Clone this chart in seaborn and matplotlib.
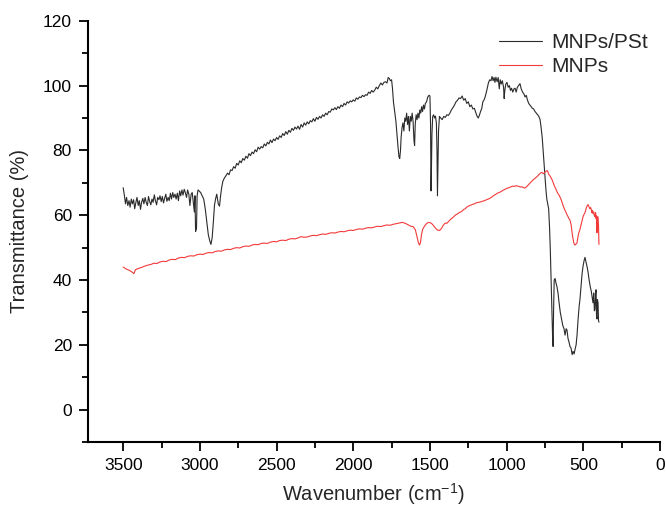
"""FTIR spectra of MNPs and MNPs/PSt, transmittance vs wavenumber."""

from matplotlib import pyplot as plt
from matplotlib.ticker import MultipleLocator
import seaborn as sns
import pandas as pd

# MNPs/PSt spectrum (black)
pst_wn = [
    3500, 3492, 3485, 3478, 3470, 3462, 3455, 3447, 3440, 3432, 3425, 3417, 3410, 3402, 3395,
    3387, 3380, 3372, 3365, 3357, 3350, 3342, 3335, 3327, 3320, 3312, 3305, 3297, 3290, 3282,
    3275, 3267, 3260, 3252, 3245, 3237, 3230, 3222, 3215, 3207, 3200, 3192, 3185, 3177, 3170,
    3162, 3155, 3147, 3140, 3132, 3125, 3117, 3110, 3102, 3095, 3087, 3080, 3072, 3065, 3057,
    3050, 3043, 3036, 3032, 3028, 3022, 3018, 3012, 3005, 2995, 2985, 2975, 2965, 2955, 2945,
    2935, 2928, 2920, 2912, 2905, 2898, 2890, 2880, 2872, 2865, 2858, 2850, 2840, 2830, 2820,
    2810, 2800, 2790, 2780, 2770, 2760, 2750, 2740, 2730, 2720, 2710, 2700, 2690, 2680, 2670,
    2660, 2650, 2640, 2630, 2620, 2610, 2600, 2590, 2580, 2570, 2560, 2550, 2540, 2530, 2520,
    2510, 2500, 2490, 2480, 2470, 2460, 2450, 2440, 2430, 2420, 2410, 2400, 2390, 2380, 2370,
    2360, 2350, 2340, 2330, 2320, 2310, 2300, 2290, 2280, 2270, 2260, 2250, 2240, 2230, 2220,
    2210, 2200, 2190, 2180, 2170, 2160, 2150, 2140, 2130, 2120, 2110, 2100, 2090, 2080, 2070,
    2060, 2050, 2040, 2030, 2020, 2010, 2000, 1990, 1980, 1970, 1960, 1950, 1940, 1930, 1920,
    1910, 1900, 1890, 1880, 1870, 1860, 1850, 1840, 1830, 1820, 1810, 1800, 1790, 1780, 1772,
    1765, 1758, 1750, 1744, 1738, 1730, 1722, 1715, 1708, 1702, 1697, 1692, 1688, 1682, 1676,
    1670, 1664, 1658, 1652, 1646, 1640, 1634, 1628, 1622, 1616, 1610, 1604, 1600, 1596, 1590,
    1584, 1578, 1572, 1566, 1560, 1554, 1548, 1542, 1536, 1530, 1522, 1514, 1506, 1500, 1496,
    1493, 1490, 1487, 1482, 1476, 1470, 1464, 1458, 1454, 1451, 1448, 1444, 1438, 1430, 1420,
    1410, 1400, 1390, 1380, 1370, 1360, 1350, 1340, 1330, 1320, 1310, 1300, 1290, 1280, 1270,
    1260, 1250, 1240, 1230, 1220, 1210, 1200, 1192, 1185, 1178, 1170, 1162, 1155, 1148, 1140,
    1132, 1125, 1118, 1110, 1102, 1095, 1088, 1082, 1076, 1070, 1062, 1055, 1048, 1042, 1035,
    1028, 1020, 1016, 1012, 1005, 998, 990, 982, 975, 968, 960, 952, 945, 938, 930,
    922, 913, 905, 896, 888, 880, 872, 864, 856, 848, 840, 832, 824, 815, 806,
    798, 790, 782, 775, 768, 762, 756, 750, 744, 738, 732, 726, 720, 715, 710,
    705, 700, 697, 694, 690, 684, 678, 672, 665, 658, 650, 642, 634, 626, 619,
    612, 606, 600, 594, 587, 580, 573, 567, 560, 554, 547, 541, 534, 527, 522,
    515, 508, 502, 495, 489, 482, 475, 469, 462, 455, 448, 443, 437, 432, 428,
    424, 420, 417, 414, 411, 408, 404, 401, 398,
]
pst_t = [
    68.5, 66.0, 63.5, 65.5, 63.0, 64.5, 62.5, 65.0, 63.5, 64.8, 62.0, 64.0, 65.5, 63.0, 64.5,
    61.8, 64.0, 65.2, 63.5, 65.5, 64.0, 63.0, 65.8, 64.2, 63.2, 65.0, 64.0, 66.3, 64.5, 63.2,
    65.5, 64.8, 66.0, 64.2, 65.8, 63.8, 65.2, 66.5, 64.3, 65.5, 64.5, 66.8, 65.0, 67.0, 65.5,
    66.5, 65.0, 66.8, 64.5, 67.5, 66.0, 67.8, 66.2, 68.0, 67.0, 65.5, 67.8, 66.5, 63.0, 66.5,
    67.0, 64.0, 61.0, 66.0, 55.0, 56.0, 66.0, 67.8, 67.5, 67.0, 66.0, 65.0, 62.0, 58.0, 54.0,
    52.0, 51.0, 53.0, 58.0, 63.0, 65.0, 66.5, 63.5, 62.8, 66.0, 68.5, 70.5, 71.5, 72.2, 73.0,
    72.5, 74.0, 73.8, 75.0, 74.5, 76.0, 75.5, 76.8, 76.2, 77.5, 77.0, 78.2, 77.6, 79.0, 78.4,
    79.5, 79.0, 80.2, 79.6, 81.0, 80.4, 81.2, 80.8, 82.0, 81.4, 82.5, 82.0, 83.2, 82.4, 83.5,
    83.0, 84.0, 83.4, 84.5, 84.0, 85.2, 84.6, 85.8, 85.0, 86.2, 85.6, 86.8, 86.2, 87.2, 86.6,
    87.5, 86.5, 88.0, 87.2, 88.5, 87.8, 88.8, 88.2, 89.2, 88.8, 89.8, 89.0, 90.2, 89.6, 90.5,
    90.0, 91.0, 90.5, 91.5, 91.0, 92.0, 91.8, 92.8, 92.5, 93.2, 92.6, 93.5, 93.0, 94.0, 93.5,
    94.5, 94.0, 95.0, 94.6, 95.3, 95.0, 95.6, 95.2, 96.2, 95.8, 96.5, 96.3, 97.0, 96.6, 97.2,
    97.0, 98.0, 97.6, 98.5, 98.0, 98.6, 99.5, 99.0, 100.0, 100.8, 100.2, 101.0, 101.2, 100.8, 102.5,
    102.2, 101.5, 101.8, 99.0, 95.0, 92.0, 89.0, 85.0, 81.0, 78.0, 77.5, 80.0, 84.0, 87.0, 88.5,
    86.0, 90.0, 89.0, 91.5, 88.0, 90.5, 86.0, 90.5, 89.0, 91.5, 89.0, 83.0, 81.5, 88.0, 91.0,
    89.5, 91.5, 90.0, 92.5, 91.5, 93.5, 92.0, 94.0, 92.8, 94.5, 95.0, 96.5, 97.0, 96.8, 88.0,
    67.5, 75.0, 85.0, 90.5, 91.0, 90.0, 90.6, 88.5, 80.0, 66.0, 74.0, 86.0, 90.5, 90.0, 89.5,
    90.5, 90.2, 91.0, 90.8, 91.5, 92.5, 93.2, 94.0, 95.0, 95.5, 96.2, 96.0, 96.8, 95.5, 96.0,
    94.5, 95.0, 93.5, 94.0, 92.8, 93.0, 91.5, 90.5, 90.0, 90.8, 92.0, 93.0, 95.0, 95.5, 96.5,
    98.0, 99.5, 101.0, 101.8, 101.5, 102.8, 101.5, 102.5, 101.0, 102.6, 101.2, 102.5, 99.0, 101.8, 100.5,
    101.5, 99.5, 96.0, 98.5, 100.5, 101.0, 99.5, 100.0, 98.5, 99.2, 98.0, 99.0, 99.2, 98.0, 99.5,
    100.0, 100.6, 99.0, 98.0, 97.5, 96.5, 97.0, 95.5, 94.5, 94.0, 93.5, 93.0, 92.8, 92.0, 91.5,
    91.0, 90.5, 89.5, 87.0, 84.0, 80.0, 76.0, 72.0, 68.0, 65.0, 63.5, 62.0, 56.0, 49.0, 40.0,
    30.0, 22.0, 19.5, 30.0, 40.0, 40.5, 39.0, 38.0, 36.0, 33.0, 30.0, 28.0, 26.0, 25.0, 23.0,
    25.0, 24.5, 22.0, 21.0, 19.5, 19.0, 17.0, 18.0, 17.2, 18.6, 20.0, 23.0, 28.0, 32.0, 34.0,
    38.0, 42.0, 44.2, 46.0, 47.0, 45.5, 44.0, 42.4, 40.0, 38.0, 36.5, 35.0, 33.0, 36.0, 30.5,
    31.0, 36.0, 37.0, 29.0, 28.0, 34.0, 33.0, 27.5, 27.0,
]

# MNPs spectrum (red)
mnp_wn = [
    3500, 3480, 3460, 3440, 3430, 3420, 3400, 3380, 3360, 3340, 3320, 3300, 3280, 3260, 3240,
    3220, 3200, 3180, 3160, 3140, 3120, 3100, 3080, 3060, 3040, 3020, 3000, 2980, 2960, 2940,
    2920, 2900, 2880, 2860, 2840, 2820, 2800, 2780, 2760, 2740, 2720, 2700, 2680, 2660, 2640,
    2620, 2600, 2580, 2560, 2540, 2520, 2500, 2480, 2460, 2440, 2420, 2400, 2380, 2360, 2340,
    2320, 2300, 2280, 2260, 2240, 2220, 2200, 2180, 2160, 2140, 2120, 2100, 2080, 2060, 2040,
    2020, 2000, 1980, 1960, 1940, 1920, 1900, 1880, 1860, 1840, 1820, 1800, 1780, 1760, 1740,
    1720, 1700, 1680, 1660, 1640, 1625, 1610, 1595, 1585, 1575, 1568, 1562, 1555, 1548, 1540,
    1530, 1520, 1510, 1500, 1490, 1480, 1470, 1460, 1450, 1440, 1432, 1424, 1416, 1408, 1400,
    1390, 1380, 1370, 1360, 1350, 1340, 1330, 1320, 1310, 1300, 1290, 1280, 1270, 1260, 1250,
    1240, 1230, 1220, 1210, 1200, 1190, 1180, 1170, 1160, 1150, 1140, 1130, 1120, 1110, 1100,
    1090, 1080, 1070, 1060, 1050, 1040, 1030, 1020, 1010, 1000, 990, 980, 970, 960, 950,
    940, 930, 920, 910, 900, 890, 880, 870, 860, 850, 840, 830, 820, 810, 800,
    790, 780, 770, 760, 750, 742, 737, 732, 725, 718, 710, 704, 696, 688, 680,
    672, 664, 656, 648, 640, 632, 624, 616, 608, 600, 594, 587, 580, 574, 570,
    566, 562, 558, 554, 550, 546, 541, 536, 530, 522, 515, 508, 502, 496, 489,
    482, 476, 469, 463, 457, 452, 448, 444, 440, 436, 432, 428, 424, 420, 417,
    414, 411, 408, 404, 401, 398,
]
mnp_t = [
    44.0, 43.4, 43.0, 42.4, 42.0, 43.2, 43.6, 43.9, 44.3, 44.6, 44.8, 45.2, 45.1, 45.6, 45.8,
    45.7, 46.2, 46.4, 46.3, 46.8, 47.0, 46.9, 47.3, 47.5, 47.4, 47.8, 48.0, 47.9, 48.3, 48.5,
    48.4, 48.8, 49.0, 48.9, 49.3, 49.5, 49.4, 49.8, 50.0, 49.9, 50.3, 50.5, 50.4, 50.8, 51.0,
    50.9, 51.3, 51.4, 51.3, 51.7, 51.9, 51.8, 52.2, 52.3, 52.2, 52.6, 52.8, 52.7, 53.0, 53.4,
    53.2, 53.3, 53.6, 53.8, 53.7, 54.0, 54.2, 54.1, 54.4, 54.6, 54.5, 54.8, 55.0, 54.9, 55.2,
    55.4, 55.3, 55.6, 55.8, 55.7, 56.0, 56.2, 56.1, 56.4, 56.6, 56.5, 56.8, 57.0, 56.9, 57.2,
    57.4, 57.6, 57.8, 57.5, 57.0, 56.6, 56.5, 55.5, 53.5, 51.5, 50.8, 51.5, 54.0, 55.6, 56.3,
    57.0, 57.5, 57.8, 57.7, 57.5, 57.0, 56.4, 55.8, 55.4, 55.3, 55.5, 56.0, 56.7, 57.2, 57.6,
    57.5, 58.0, 58.5, 59.0, 59.3, 59.8, 60.2, 60.4, 60.8, 61.0, 61.3, 61.8, 62.0, 62.5, 62.8,
    63.0, 63.2, 63.4, 63.5, 63.8, 63.9, 64.0, 64.1, 64.3, 64.4, 64.6, 64.8, 65.0, 65.2, 65.5,
    65.9, 66.2, 66.5, 66.8, 67.0, 67.2, 67.5, 67.8, 68.0, 68.3, 68.4, 68.6, 68.8, 69.0, 68.9,
    69.1, 69.0, 68.9, 68.7, 68.8, 68.5, 68.4, 68.8, 69.3, 69.8, 70.3, 70.8, 71.2, 71.6, 72.0,
    72.5, 73.0, 73.2, 72.8, 73.3, 73.6, 73.8, 73.5, 72.6, 72.2, 71.5, 71.0, 70.0, 69.0, 68.2,
    67.3, 66.6, 66.0, 65.2, 64.2, 63.0, 62.0, 61.2, 60.3, 59.6, 59.0, 58.5, 57.2, 55.0, 53.5,
    52.5, 51.5, 51.0, 50.8, 51.0, 51.2, 51.5, 53.0, 54.5, 55.6, 57.0, 58.3, 59.5, 60.2, 60.8,
    62.0, 62.8, 63.3, 62.6, 62.0, 62.4, 61.7, 60.8, 61.5, 60.5, 61.0, 59.8, 59.6, 60.8, 59.0,
    59.8, 54.6, 59.5, 59.5, 57.0, 51.0,
]

df_pst = pd.DataFrame({'wavenumber': pst_wn, 'transmittance': pst_t})
df_mnp = pd.DataFrame({'wavenumber': mnp_wn, 'transmittance': mnp_t})

sns.set_style('ticks')
plt.rcParams['font.family'] = ['Liberation Sans', 'DejaVu Sans']
plt.rcParams['mathtext.default'] = 'regular'

fig = plt.figure(figsize=(6.66, 5.07), dpi=100)
ax = fig.add_axes([0.132, 0.128, 0.859, 0.831])

sns.lineplot(data=df_pst, x='wavenumber', y='transmittance', sort=False, estimator=None,
             color='#2b2b2b', linewidth=0.8, label='MNPs/PSt', ax=ax)
sns.lineplot(data=df_mnp, x='wavenumber', y='transmittance', sort=False, estimator=None,
             color='#f23a3a', linewidth=0.8, label='MNPs', ax=ax)

ax.set_xlim(3730, 0)
ax.set_ylim(-10, 120)
ax.xaxis.set_major_locator(MultipleLocator(500))
ax.xaxis.set_minor_locator(MultipleLocator(250))
ax.yaxis.set_major_locator(MultipleLocator(20))
ax.yaxis.set_minor_locator(MultipleLocator(10))
ax.tick_params(which='major', direction='out', length=6.5, width=1.3, labelsize=12.5,
               colors='black', pad=5)
ax.tick_params(which='minor', direction='out', length=4.3, width=1.3, colors='black')

for side in ['top', 'right']:
    ax.spines[side].set_visible(False)
for side in ['left', 'bottom']:
    ax.spines[side].set_linewidth(1.5)
    ax.spines[side].set_color('black')

ax.set_xlabel('Wavenumber (cm$^{-1}$)', fontsize=14.5, labelpad=6)
ax.set_ylabel('Transmittance (%)', fontsize=14.5, labelpad=10)

ax.legend(loc='upper right', bbox_to_anchor=(1.0, 1.0), frameon=False, fontsize=15,
          handlelength=2.1, handletextpad=0.4, labelspacing=0.25, borderaxespad=0.2)

fig.savefig('out.png', dpi=100)
